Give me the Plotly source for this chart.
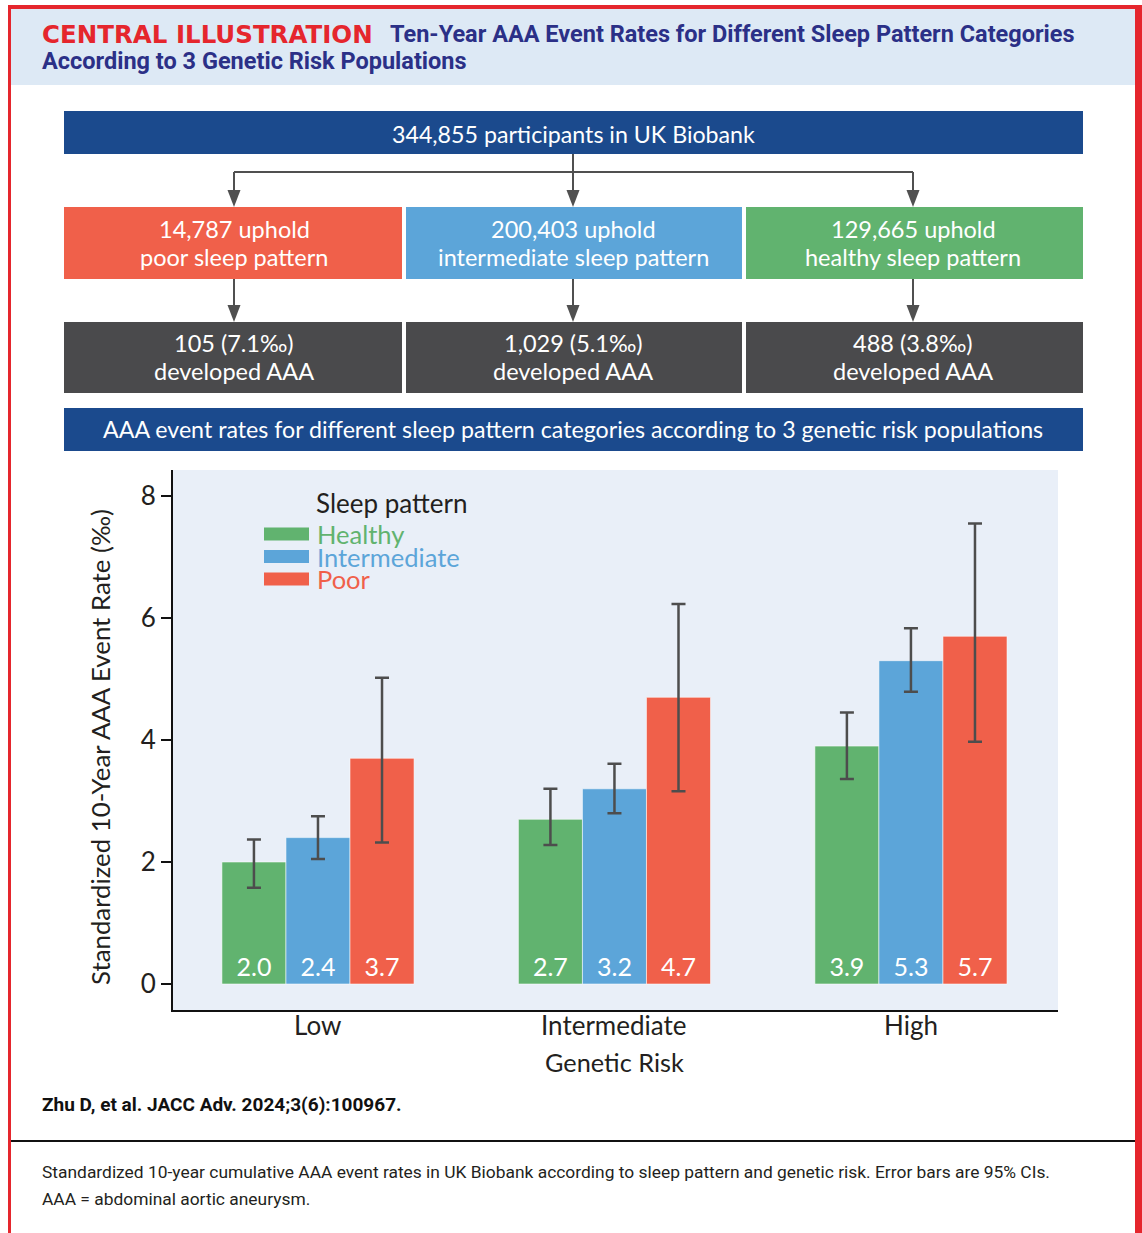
import plotly.graph_objects as go

W, H = 1142, 1233

# ---- data -------------------------------------------------------------
genetic_risk = ["Low", "Intermediate", "High"]
sleep_patterns = ["Healthy", "Intermediate", "Poor"]

rate_healthy = [2.0, 2.7, 3.9]
rate_intermediate = [2.4, 3.2, 5.3]
rate_poor = [3.7, 4.7, 5.7]

ci_low_healthy = [1.58, 2.28, 3.36]
ci_high_healthy = [2.37, 3.20, 4.45]
ci_low_intermediate = [2.05, 2.80, 4.79]
ci_high_intermediate = [2.75, 3.61, 5.83]
ci_low_poor = [2.32, 3.16, 3.97]
ci_high_poor = [5.02, 6.23, 7.55]

y_ticks = [0, 2, 4, 6, 8]

cohort_total = "344,855 participants in UK Biobank"
group_counts = [("14,787 uphold", "poor sleep pattern"),
                ("200,403 uphold", "intermediate sleep pattern"),
                ("129,665 uphold", "healthy sleep pattern")]
group_events = [("105 (7.1‰)", "developed AAA"),
                ("1,029 (5.1‰)", "developed AAA"),
                ("488 (3.8‰)", "developed AAA")]

# ---- style ------------------------------------------------------------
GREEN = "#61B36F"
BLUE = "#5CA5D9"
RED = "#F0604A"
NAVY = "#1B4A8D"
DARK = "#4A4A4C"
ARROW = "#505050"
FRAME = "#E5262D"
TITLE_BLUE = "#2B3087"
INK = "#231F20"
FONT = "Lato"


def X(px):
    return px / W


def Y(py):
    return 1 - py / H


fig = go.Figure()

series = [
    ("Healthy", rate_healthy, ci_low_healthy, ci_high_healthy, GREEN),
    ("Intermediate", rate_intermediate, ci_low_intermediate, ci_high_intermediate, BLUE),
    ("Poor", rate_poor, ci_low_poor, ci_high_poor, RED),
]
for name, vals, lo, hi, col in series:
    fig.add_trace(go.Bar(
        x=genetic_risk, y=vals, name=name,
        marker=dict(color=col, line=dict(color="rgba(255,255,255,0.55)", width=1)),
        text=[f"{v:.1f}" for v in vals],
        textposition="inside", insidetextanchor="start", textangle=0,
        textfont=dict(family=FONT, size=25, color="white"),
        error_y=dict(type="data", symmetric=False,
                     array=[h - v for h, v in zip(hi, vals)],
                     arrayminus=[v - l for l, v in zip(lo, vals)],
                     color="#4D4D4D", thickness=2.5, width=7),
        showlegend=False,
    ))

shapes = []
annotations = []


def rect(x0, y0, x1, y1, fill, layer="below"):
    shapes.append(dict(type="rect", xref="paper", yref="paper",
                       x0=X(x0), x1=X(x1), y0=Y(y1), y1=Y(y0),
                       fillcolor=fill, line=dict(width=0), layer=layer))


def line(x0, y0, x1, y1, color, width=2):
    shapes.append(dict(type="line", xref="paper", yref="paper",
                       x0=X(x0), x1=X(x1), y0=Y(y0), y1=Y(y1),
                       line=dict(color=color, width=width), layer="above"))


def arrow_head(xc, tip, color=ARROW):
    path = (f"M {X(xc - 6.5)} {Y(tip - 17)} L {X(xc + 6.5)} {Y(tip - 17)} "
            f"L {X(xc)} {Y(tip)} Z")
    shapes.append(dict(type="path", xref="paper", yref="paper", path=path,
                       fillcolor=color, line=dict(width=0), layer="above"))


def text(x, y, s, size, color, family=FONT, anchor="center", bold=False):
    if bold:
        s = f"<b>{s}</b>"
    if anchor == "left":
        x -= 2
    annotations.append(dict(xref="paper", yref="paper", x=X(x), y=Y(y),
                            text=s, showarrow=False, xanchor=anchor,
                            yanchor="middle", align=anchor,
                            font=dict(family=family, size=size, color=color)))


# header band and frame
rect(11, 8, 1135, 85, "#DDE9F5")
rect(8, 5, 1142, 9, FRAME, "above")
rect(8, 5, 11, 1233, FRAME, "above")
rect(1135, 5, 1142, 1233, FRAME, "above")

text(42, 34, "CENTRAL ILLUSTRATION", 24.5, FRAME, "DejaVu Sans", "left", True)
text(390, 34, "Ten-Year AAA Event Rates for Different Sleep Pattern Categories",
     23.5, TITLE_BLUE, "Roboto", "left", True)
text(42, 61, "According to 3 Genetic Risk Populations", 23.5, TITLE_BLUE, "Roboto", "left", True)

# flow diagram
col_x = [(64, 402), (406, 742), (746, 1083)]
centers = [234, 573, 913]
rect(64, 111, 1083, 154, NAVY)
text(573, 134, cohort_total, 23.2, "white")

line(573, 154, 573, 192, ARROW)
line(234, 172, 913, 172, ARROW)
line(234, 172, 234, 192, ARROW)
line(913, 172, 913, 192, ARROW)
for c in centers:
    arrow_head(c, 207)

row2_colors = [RED, BLUE, GREEN]
for (x0, x1), c, col, (l1, l2) in zip(col_x, centers, row2_colors, group_counts):
    rect(x0, 207, x1, 279, col)
    text(c, 229, l1, 23.5, "white")
    text(c, 257, l2, 23.5, "white")
    line(c, 279, c, 306, ARROW)
    arrow_head(c, 322)

for (x0, x1), c, (l1, l2) in zip(col_x, centers, group_events):
    rect(x0, 322, x1, 393, DARK)
    text(c, 343, l1, 23.5, "white")
    text(c, 371, l2, 23.5, "white")

rect(64, 408, 1083, 451, NAVY)
text(573, 429, "AAA event rates for different sleep pattern categories according to 3 genetic risk populations",
     23.2, "white")

# legend
text(316, 503, "Sleep pattern", 26, INK, anchor="left")
for i, (name, col) in enumerate(zip(sleep_patterns, [GREEN, BLUE, RED])):
    yc = 534 + i * 22.5
    rect(264, yc - 6.5, 309, yc + 6.5, col, "above")
    text(317, yc, name, 25.5, col, anchor="left")

# category labels under the x axis
for cat in genetic_risk:
    annotations.append(dict(xref="x", yref="paper", x=cat, y=Y(1025),
                            text=cat, showarrow=False, xanchor="center", yanchor="middle",
                            font=dict(family=FONT, size=26, color=INK)))

# axis titles
annotations.append(dict(xref="paper", yref="paper", x=X(100), y=Y(747),
                        text="Standardized 10-Year AAA Event Rate (‰)", textangle=-90,
                        showarrow=False, xanchor="center", yanchor="middle",
                        font=dict(family=FONT, size=25.8, color=INK)))
text(614, 1062, "Genetic Risk", 25.3, INK)

# footer
text(42, 1104, "Zhu D, et al. JACC Adv. 2024;3(6):100967.", 19, "#111111", "Roboto", "left", True)
line(11, 1141, 1135, 1141, "#111111", 2)
text(42, 1172, "Standardized 10-year cumulative AAA event rates in UK Biobank according to sleep pattern and genetic risk. Error bars are 95% CIs.",
     17.4, INK, "Roboto", "left")
text(42, 1199, "AAA = abdominal aortic aneurysm.", 17.4, INK, "Roboto", "left")

fig.update_layout(
    width=W, height=H,
    margin=dict(l=0, r=0, t=0, b=0),
    paper_bgcolor="white",
    plot_bgcolor="#E9EFF8",
    barmode="group", bargap=0.352, bargroupgap=0,
    shapes=shapes, annotations=annotations,
    xaxis=dict(domain=[X(173), X(1058)], range=[-0.489, 2.496],
               showline=True, linecolor="#111111", linewidth=2,
               ticks="", showticklabels=False, showgrid=False, zeroline=False),
    yaxis=dict(domain=[Y(1010), Y(470)], range=[-0.426, 8.426],
               tickvals=y_ticks, showline=True, linecolor="#111111", linewidth=2,
               ticks="outside", ticklen=10, tickwidth=1.5, tickcolor="#111111",
               showgrid=False, zeroline=False,
               tickfont=dict(family=FONT, size=26, color=INK)),
)

fig.write_html("out.html")
